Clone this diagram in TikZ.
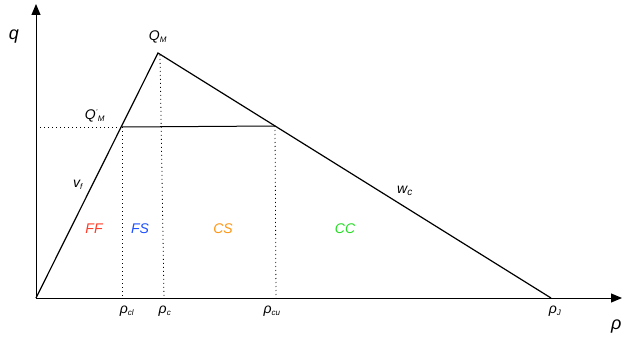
\documentclass[tikz,border=0pt]{standalone}
\usepackage{fontspec}
\setmainfont{Liberation Sans}
\usetikzlibrary{arrows.meta}
\begin{document}
\begin{tikzpicture}[x=1pt,y=-1pt,
  lbl/.style={font=\itshape\fontsize{14}{16}\selectfont, inner sep=0pt},
  big/.style={font=\itshape\fontsize{18}{20}\selectfont, inner sep=0pt},
  axis/.style={line width=1pt,-{Triangle[length=11pt,width=9pt]}},
  curve/.style={line width=1.2pt},
  dot/.style={line width=0.8pt, dash pattern=on 1pt off 3pt}]
\useasboundingbox (0,0) rectangle (623,339);
\coordinate (O) at (36,298);
\coordinate (Ytip) at (36,4);
\coordinate (Xtip) at (622,298);
\coordinate (QM) at (158,53);
\coordinate (J) at (551,298);
\coordinate (QMp) at (122,127);
\coordinate (R) at (275,126);
\coordinate (Y1) at (36,127);
\coordinate (B1) at (122,298);
\coordinate (QMd) at (160,55);
\coordinate (B2) at (164,298);
\coordinate (B3) at (276,298);
\draw[axis] (O) -- (Ytip);
\draw[axis] (O) -- (Xtip);
\draw[curve] (O) -- (QM) -- (J);
\draw[line width=1pt] (QMp) -- (R);
\draw[dot] (Y1) -- (QMp);
\draw[dot] (QMp) -- (B1);
\draw[dot] (QMd) -- (B2);
\draw[dot] (R) -- (B3);
\node[big] (q) at (14,37) {q};
\node[lbl] (qm) at (158,37) {Q\textsubscript{\fontsize{8}{9}\selectfont M}};
\node[lbl] (qmp) at (95,116) {Q\textsuperscript{\fontsize{7}{8}\selectfont '}\textsubscript{\fontsize{8}{9}\selectfont M}};
\node[lbl] (vf) at (78,185) {v\textsubscript{\fontsize{8}{9}\selectfont f}};
\node[lbl] (wc) at (405,191) {w\textsubscript{\fontsize{10}{11}\selectfont c}};
\node[lbl, text={rgb,255:red,255;green,60;blue,40}] (ff) at (94,229) {FF};
\node[lbl, text={rgb,255:red,30;green,80;blue,255}] (fs) at (140,229) {FS};
\node[lbl, text={rgb,255:red,255;green,150;blue,20}] (cs) at (223,229) {CS};
\node[lbl, text={rgb,255:red,40;green,220;blue,40}] (cc) at (345,229) {CC};
\node[lbl] (rcl) at (127,311) {ρ\textsubscript{\fontsize{8}{9}\selectfont cl}};
\node[lbl] (rc) at (165,311) {ρ\textsubscript{\fontsize{8}{9}\selectfont c}};
\node[lbl] (rcu) at (272,311) {ρ\textsubscript{\fontsize{8}{9}\selectfont cu}};
\node[lbl] (rj) at (555,311) {ρ\textsubscript{\fontsize{8}{9}\selectfont J}};
\node[big, anchor=west] (rho) at (611,327) {ρ};
\end{tikzpicture}
\end{document}
